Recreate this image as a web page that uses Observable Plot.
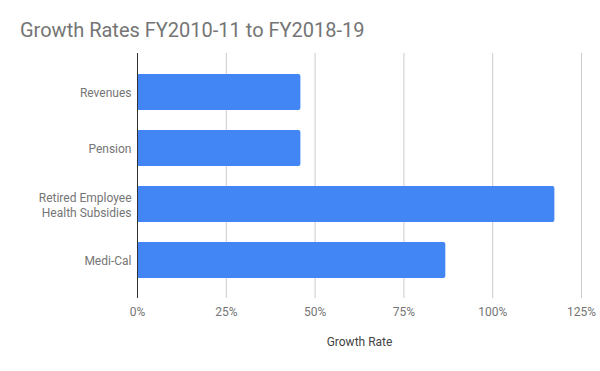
<!DOCTYPE html>
<html><head><meta charset="utf-8">
<script src="https://cdn.jsdelivr.net/npm/d3@7"></script>
<script src="https://cdn.jsdelivr.net/npm/@observablehq/plot@0.6"></script>
<style>
body{margin:0;background:#fff;}
#wrap{position:relative;width:600px;height:371px;font-family:Roboto,sans-serif;}
#title{position:absolute;left:20px;top:20px;font-size:20px;line-height:20px;color:#757575;white-space:nowrap;}
#wrap svg{position:absolute;left:0;top:0;}
</style></head><body>
<div id="wrap"><div id="title">Growth Rates FY2010-11 to FY2018-19</div></div>
<script>
const categories = ["Revenues", "Pension", "Retired Employee\nHealth Subsidies", "Medi-Cal"];
const growthRates = [0.46, 0.46, 1.175, 0.868];
const xTicks = [0, 0.25, 0.5, 0.75, 1, 1.25];
const data = categories.map((c, i) => ({category: c, rate: growthRates[i]}));
const pct = d3.format(".0%");
const chart = Plot.plot({
  width: 600, height: 371,
  marginTop: 53, marginBottom: 73, marginLeft: 137, marginRight: 19,
  style: {fontFamily: "Roboto, sans-serif", fontSize: "12px", background: "transparent"},
  x: {domain: [0, 1.25], ticks: xTicks, tickFormat: pct},
  y: {domain: categories, padding: 0.36},
  marks: [
    Plot.gridX(xTicks.slice(1), {stroke: "#cccccc", strokeOpacity: 1}),
    Plot.barX(data, {x: "rate", y: "category", fill: "#4285F4", rx: 2}),
    Plot.ruleX([0], {stroke: "#333333"}),
    Plot.axisX({ticks: xTicks, tickFormat: pct, tickSize: 0, tickPadding: 9, fill: "#757575", label: null}),
    Plot.axisY({tickSize: 0, tickPadding: 6, fill: "#757575", label: null, lineHeight: 1.25}),
    Plot.text(["Growth Rate"], {frameAnchor: "bottom", dy: 47, fill: "#444444"})
  ]
});
document.getElementById("wrap").appendChild(chart);
</script>
</body></html>
